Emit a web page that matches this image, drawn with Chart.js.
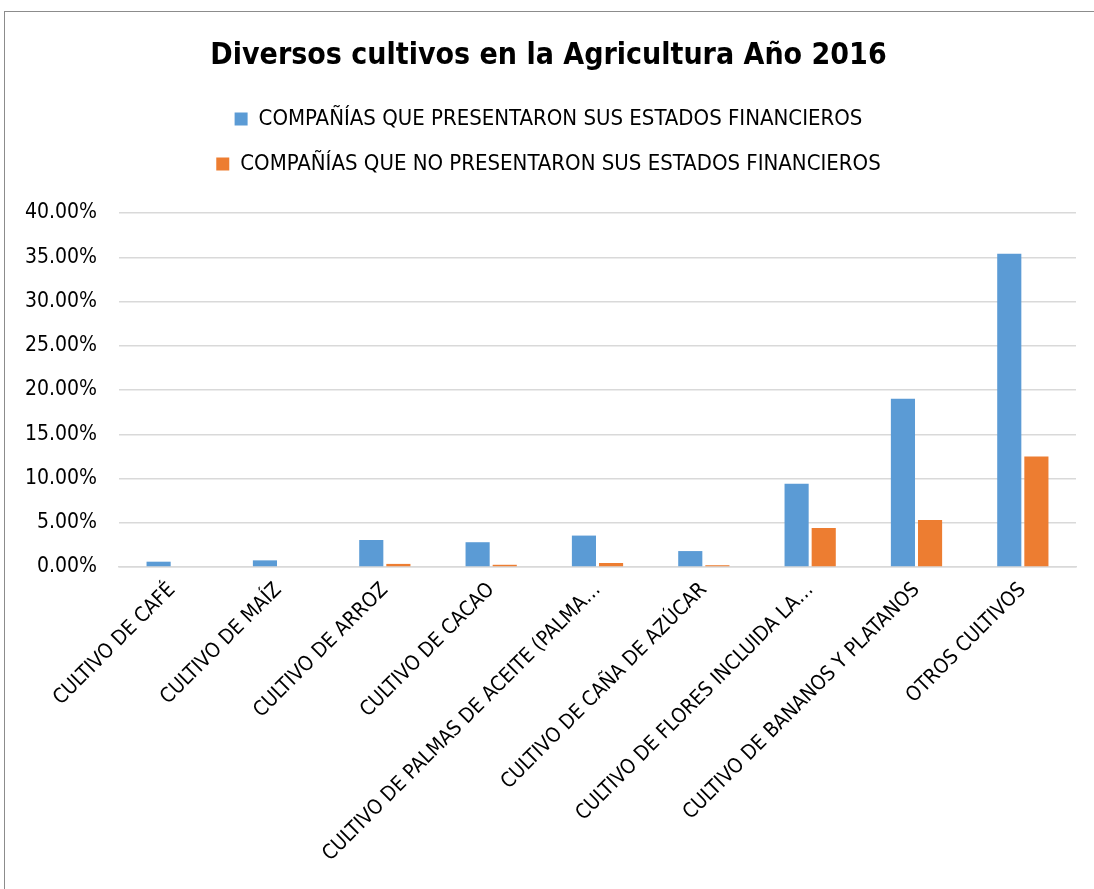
<!DOCTYPE html>
<html>
<head>
<meta charset="utf-8">
<script src="https://cdn.jsdelivr.net/npm/chart.js@4.4.0/dist/chart.umd.min.js"></script>
<style>
  body { margin: 0; background: #fff; }
  #marco { position: absolute; left: 4px; top: 11px; width: 1100px; height: 890px; border: 1px solid #8c8c8c; box-sizing: border-box; }
  #grafico { position: absolute; left: 0; top: 0; }
</style>
</head>
<body>
<div id="marco"><canvas id="grafico" width="1090" height="878"></canvas></div>
<script>
// categorias (tal como se ven en el eje)
const categorias = [
  'CULTIVO DE CAFÉ',
  'CULTIVO DE MAÍZ',
  'CULTIVO DE ARROZ',
  'CULTIVO DE CACAO',
  'CULTIVO DE PALMAS DE ACEITE (PALMA…',
  'CULTIVO DE CAÑA DE AZÚCAR',
  'CULTIVO DE FLORES INCLUIDA LA…',
  'CULTIVO DE BANANOS Y PLATANOS',
  'OTROS CULTIVOS'
];
// valores en fraccion (0.354 = 35.40%)
const presentaron = [0.006, 0.0075, 0.0305, 0.028, 0.0355, 0.018, 0.094, 0.19, 0.354];
const noPresentaron = [0, 0, 0.0035, 0.0025, 0.0045, 0.002, 0.044, 0.053, 0.125];
const tituloTexto = 'Diversos cultivos en la Agricultura Año 2016';
const nombreSerie1 = 'COMPAÑÍAS QUE PRESENTARON SUS ESTADOS FINANCIEROS';
const nombreSerie2 = 'COMPAÑÍAS QUE NO PRESENTARON SUS ESTADOS FINANCIEROS';

const fuente = "'DejaVu Sans Condensed', 'Liberation Sans Narrow', sans-serif";
Chart.defaults.font.family = fuente;
Chart.defaults.color = '#000';

// espacio extra debajo de la leyenda
const espacioLeyenda = {
  id: 'espacioLeyenda',
  beforeInit(chart) {
    const fitOriginal = chart.legend.fit;
    chart.legend.fit = function () {
      fitOriginal.bind(chart.legend)();
      this.height += 28;
    };
  }
};

const ctx = document.getElementById('grafico').getContext('2d');
new Chart(ctx, {
  type: 'bar',
  data: {
    labels: categorias,
    datasets: [{
      label: nombreSerie1,
      data: presentaron,
      backgroundColor: '#5b9bd5',
      borderWidth: 0,
      barPercentage: 0.89,
      categoryPercentage: 0.51
    }, {
      label: nombreSerie2,
      data: noPresentaron,
      backgroundColor: '#ed7d31',
      borderWidth: 0,
      barPercentage: 0.89,
      categoryPercentage: 0.51
    }]
  },
  plugins: [espacioLeyenda],
  options: {
    responsive: false,
    animation: false,
    layout: { padding: { left: 16, right: 19, top: 20, bottom: 0 } },
    plugins: {
      title: {
        display: true,
        text: tituloTexto,
        font: { size: 30, weight: 'bold', family: fuente },
        color: '#000',
        padding: { top: 6, bottom: 11 }
      },
      legend: {
        position: 'top',
        labels: {
          boxWidth: 13,
          boxHeight: 13,
          padding: 23,
          font: { size: 22, family: fuente },
          color: '#000'
        }
      },
      tooltip: { enabled: false }
    },
    scales: {
      x: {
        grid: { display: false },
        border: { color: '#d9d9d9', width: 1.5 },
        ticks: {
          maxRotation: 45,
          minRotation: 45,
          autoSkip: false,
          font: { size: 20.5, family: fuente },
          color: '#000'
        },
        afterFit: (escala) => { escala.height = 323; }
      },
      y: {
        min: 0,
        max: 0.4,
        grid: { color: '#d9d9d9', lineWidth: 1.5, drawTicks: false },
        border: { display: false },
        ticks: {
          stepSize: 0.05,
          padding: 22,
          font: { size: 21, family: fuente },
          color: '#000',
          callback: (v) => (v * 100).toFixed(2) + '%'
        },
        afterFit: (escala) => { escala.width = 98; }
      }
    }
  }
});
</script>
</body>
</html>
